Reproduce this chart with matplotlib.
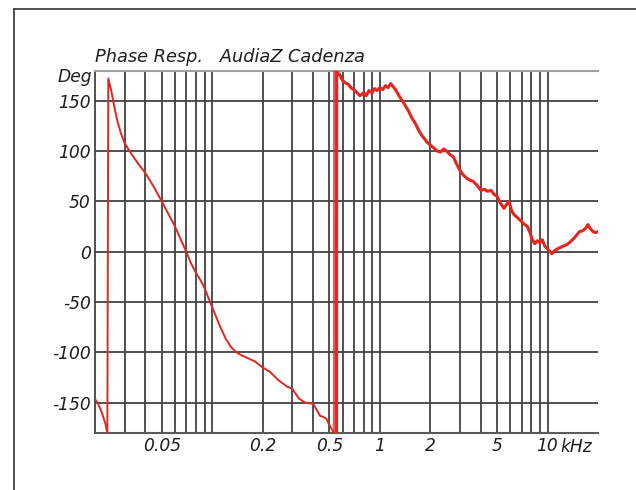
import matplotlib
matplotlib.use("Agg")
import matplotlib.pyplot as plt
from matplotlib.lines import Line2D
import numpy as np

# ---- data ----
freq_low = [0.0200, 0.0210, 0.0220, 0.0230, 0.0237, 0.0240, 0.0250, 0.0260, 0.0270, 0.0285,
            0.0300, 0.0330, 0.0360, 0.0400, 0.0450, 0.0500, 0.0550, 0.0600, 0.0650, 0.0700,
            0.0750, 0.0800, 0.0850, 0.0900, 0.0950, 0.1000, 0.1100, 0.1200, 0.1300, 0.1400,
            0.1500, 0.1600, 0.1800, 0.2000, 0.2200, 0.2500, 0.2800, 0.3000, 0.3300, 0.3600,
            0.4000, 0.4200, 0.4400, 0.4600, 0.4800, 0.5000, 0.5320]
phase_low = [-146, -152, -160, -170, -180, 172, 160, 145, 132, 118,
             108, 97, 88, 78, 64, 50, 37, 25, 12, 0,
             -12, -21, -28, -36, -46, -55, -72, -86, -95, -100,
             -103, -105, -109, -115, -119, -128, -134, -136, -146, -150,
             -151, -157, -163, -164, -166, -172, -180]

freq_wrap = [0.5320, 0.5340, 0.5370, 0.5400, 0.5440, 0.5470, 0.5520]
phase_wrap = [-180, 180, -180, 180, -180, 180, -180]

freq_high = [0.5520, 0.5530, 0.56, 0.58, 0.60, 0.62, 0.65, 0.68, 0.70, 0.73, 0.76, 0.78, 0.80, 0.83,
             0.86, 0.90, 0.93, 0.96, 1.00, 1.04, 1.08, 1.12, 1.16, 1.20, 1.25, 1.30,
             1.36, 1.42, 1.48, 1.55, 1.62, 1.70, 1.77, 1.85, 1.93, 2.00, 2.10, 2.20,
             2.30, 2.40, 2.50, 2.60, 2.75, 2.85, 3.00, 3.15, 3.30, 3.45, 3.60, 3.80,
             4.00, 4.20, 4.40, 4.60, 4.80, 5.00, 5.25, 5.50, 5.70, 5.90, 6.10, 6.30,
             6.60, 7.00, 7.30, 7.60, 7.90, 8.10, 8.40, 8.70, 9.00, 9.30, 9.60, 10.0,
             10.6, 11.0, 11.5, 12.2, 13.0, 13.5, 14.3, 15.0, 15.5, 16.3, 17.0, 17.4,
             18.0, 18.7, 19.3, 20.0]
phase_high = [-180, 180, 178, 175, 170, 168, 166, 162, 161, 158, 155, 156, 158, 155,
              160, 158, 162, 160, 163, 161, 165, 163, 167, 164, 160, 155,
              150, 145, 140, 133, 128, 121, 116, 112, 108, 106, 103, 100,
              99, 102, 100, 97, 94, 88, 81, 76, 73, 71, 70, 66,
              61, 62, 60, 61, 57, 55, 48, 43, 47, 50, 41, 37,
              34, 30, 27, 25, 18, 12, 8, 11, 9, 12, 6, 3,
              -2, 1, 3, 5, 7, 9, 13, 17, 20, 21, 24, 27,
              23, 20, 19, 20]

y_ticks = [150, 100, 50, 0, -50, -100, -150]
x_tick_vals = [0.05, 0.2, 0.5, 1, 2, 5, 10]
x_tick_labels = ["0.05", "0.2", "0.5", "1", "2", "5", "10"]
grid_freqs = [0.03, 0.04, 0.05, 0.06, 0.07, 0.08, 0.09,
              0.1, 0.2, 0.3, 0.4, 0.5, 0.6, 0.7, 0.8, 0.9,
              1, 2, 3, 4, 5, 6, 7, 8, 9, 10]

title_text = "Phase Resp.   AudiaZ Cadenza"

# ---- figure ----
W, H = 636, 490
fig = plt.figure(figsize=(W / 100, H / 100), dpi=100)
ax = fig.add_axes([95 / W, 1 - 433 / H, (598 - 95) / W, (433 - 70.5) / H])

red = "#e3261e"
gridc = "#424242"
txt = "#1e1e1e"
fs = 12.3

ax.set_xscale("log")
ax.set_xlim(0.02, 20)
ax.set_ylim(-180, 180)

for g in grid_freqs:
    ax.axvline(g, color=gridc, lw=1.3, zorder=1)
for yv in y_ticks:
    ax.axhline(yv, color=gridc, lw=1.3, zorder=1)

ax.plot(freq_low, phase_low, color=red, lw=1.4, zorder=3)
ax.plot(freq_wrap, phase_wrap, color=red, lw=1.6, alpha=0.75, zorder=3)
ax.plot(freq_high, phase_high, color=red, lw=2.2, zorder=3)

ax.spines["right"].set_visible(False)
ax.spines["top"].set_color("#a0a0a0")
ax.spines["top"].set_linewidth(1.5)
ax.spines["left"].set_color(gridc)
ax.spines["left"].set_linewidth(1.3)
ax.spines["bottom"].set_color("#5a5a5a")
ax.spines["bottom"].set_linewidth(1.5)

ax.tick_params(which="both", length=0)
ax.xaxis.set_minor_locator(matplotlib.ticker.NullLocator())
ax.xaxis.set_minor_formatter(matplotlib.ticker.NullFormatter())
ax.set_xticks(x_tick_vals)
ax.set_xticklabels(x_tick_labels, fontsize=fs, style="italic", color=txt)
ax.set_yticks(y_ticks)
ax.set_yticklabels([str(v) for v in y_ticks], fontsize=fs, style="italic", color=txt)
ax.tick_params(axis="x", pad=3)
ax.tick_params(axis="y", pad=3)

fig.text(95 / W, 1 - 62 / H, title_text, fontsize=12.8, style="italic",
         color=txt, ha="left", va="baseline")
fig.text(92 / W, 1 - 77 / H, "Deg", fontsize=fs, style="italic",
         color=txt, ha="right", va="center")
fig.text(560 / W, 1 - 447 / H, "kHz", fontsize=fs, style="italic",
         color=txt, ha="left", va="center")

# outer frame (top and left)
fig.add_artist(Line2D([13.5 / W, 1.0], [1 - 9.5 / H, 1 - 9.5 / H],
                      transform=fig.transFigure, color="#444444", lw=1.3))
fig.add_artist(Line2D([13.5 / W, 13.5 / W], [0, 1 - 9.5 / H],
                      transform=fig.transFigure, color="#444444", lw=1.3))

fig.savefig("out.png", dpi=100)
